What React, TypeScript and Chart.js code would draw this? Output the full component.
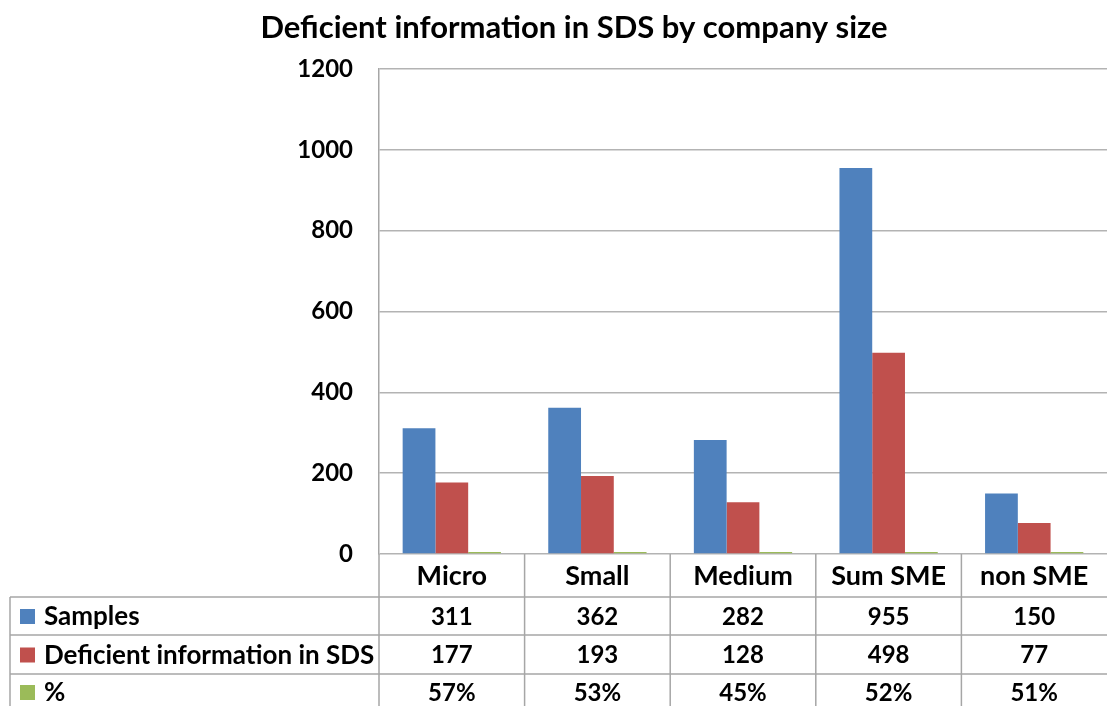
import React, { useEffect, useRef } from "react";
import { Chart, registerables } from "chart.js";

Chart.register(...registerables);

const title = "Deficient information in SDS by company size";
const categories = ["Micro", "Small", "Medium", "Sum SME", "non SME"];
const seriesNames = ["Samples", "Deficient information in SDS", "%"];
const samples = [311, 362, 282, 955, 150];
const deficient = [177, 193, 128, 498, 77];
const percent = [0.57, 0.53, 0.45, 0.52, 0.51];
const percentLabels = ["57%", "53%", "45%", "52%", "51%"];
const yMin = 0;
const yMax = 1200;
const yStep = 200;

const colors = ["#4F81BD", "#C0504D", "#9BBB59"];
const FONT = "Lato, 'Open Sans', sans-serif";

const tablePlugin = {
  id: "dataTable",
  afterDraw(chart: any) {
    const ctx = chart.ctx;
    const area = chart.chartArea;
    const xs = chart.scales.x;
    const W = chart.width;
    const H = chart.height;
    const n = categories.length;
    const colW = (area.right - area.left) / n;
    const rowTops = [area.bottom, 597, 635, 674];
    const tableLeft = 10;

    ctx.save();
    // title
    ctx.fillStyle = "#000";
    ctx.font = `bold 31px ${FONT}`;
    ctx.textAlign = "center";
    ctx.textBaseline = "middle";
    ctx.fillText(title, 574, 28);

    // grid lines of table
    ctx.strokeStyle = "#a6a6a6";
    ctx.lineWidth = 1.5;
    ctx.beginPath();
    for (let i = 1; i < rowTops.length; i++) {
      ctx.moveTo(tableLeft, rowTops[i]);
      ctx.lineTo(W, rowTops[i]);
    }
    ctx.moveTo(tableLeft, rowTops[1]);
    ctx.lineTo(tableLeft, H);
    for (let i = 0; i < n; i++) {
      const x = area.left + i * colW;
      ctx.moveTo(x, area.bottom);
      ctx.lineTo(x, H);
    }
    ctx.stroke();

    // header labels
    ctx.fillStyle = "#000";
    ctx.textAlign = "center";
    ctx.textBaseline = "middle";
    ctx.font = `bold 27px ${FONT}`;
    categories.forEach((c, i) => {
      ctx.fillText(c, xs.getPixelForValue(i), (rowTops[0] + rowTops[1]) / 2 + 1);
    });

    const rows = [
      samples.map((v) => String(v)),
      deficient.map((v) => String(v)),
      percentLabels,
    ];
    const rowBottoms = [rowTops[2], rowTops[3], H + 4];
    rows.forEach((vals, r) => {
      const top = rowTops[r + 1];
      const cy = (top + rowBottoms[r]) / 2 + 1;
      // legend key
      ctx.fillStyle = colors[r];
      ctx.fillRect(20, cy - 8, 15, 15);
      ctx.fillStyle = "#000";
      ctx.textAlign = "left";
      ctx.font = `bold 26px ${FONT}`;
      ctx.fillText(seriesNames[r], 44, cy);
      ctx.textAlign = "center";
      ctx.font = `bold 24px ${FONT}`;
      vals.forEach((v, i) => {
        ctx.fillText(v, xs.getPixelForValue(i), cy);
      });
    });
    ctx.restore();
  },
};

export default function App() {
  const ref = useRef<HTMLCanvasElement | null>(null);
  useEffect(() => {
    document.body.style.margin = "0";
    const canvas = ref.current;
    if (!canvas) return;
    const chart = new Chart(canvas, {
      type: "bar",
      data: {
        labels: categories,
        datasets: [
          { label: seriesNames[0], data: samples, backgroundColor: colors[0] },
          { label: seriesNames[1], data: deficient, backgroundColor: colors[1] },
          { label: seriesNames[2], data: percent, backgroundColor: colors[2], minBarLength: 2 },
        ],
      },
      options: {
        responsive: false,
        animation: false,
        devicePixelRatio: 1,
        layout: { padding: { left: 0, right: 0, top: 69, bottom: 152 } },
        datasets: { bar: { categoryPercentage: 0.675, barPercentage: 1 } },
        plugins: {
          legend: { display: false },
          title: { display: false },
          tooltip: { enabled: false },
        },
        scales: {
          x: { display: false, offset: true, grid: { display: false } },
          y: {
            min: yMin,
            max: yMax,
            afterFit: (s: any) => {
              s.width = 379;
            },
            border: { display: true, color: "#a6a6a6", width: 1.5 },
            grid: { color: "#b3b3b3", lineWidth: 1.5, drawTicks: false },
            ticks: {
              stepSize: yStep,
              padding: 26,
              color: "#000",
              font: { family: FONT, size: 24, weight: "bold" },
              callback: (v: any) => String(v),
            },
          },
        },
      },
      plugins: [tablePlugin],
    } as any);
    return () => chart.destroy();
  }, []);
  return (
    <div style={{ position: "fixed", left: 0, top: 0 }}>
      <canvas ref={ref} width={1107} height={706} style={{ display: "block" }} />
    </div>
  );
}
